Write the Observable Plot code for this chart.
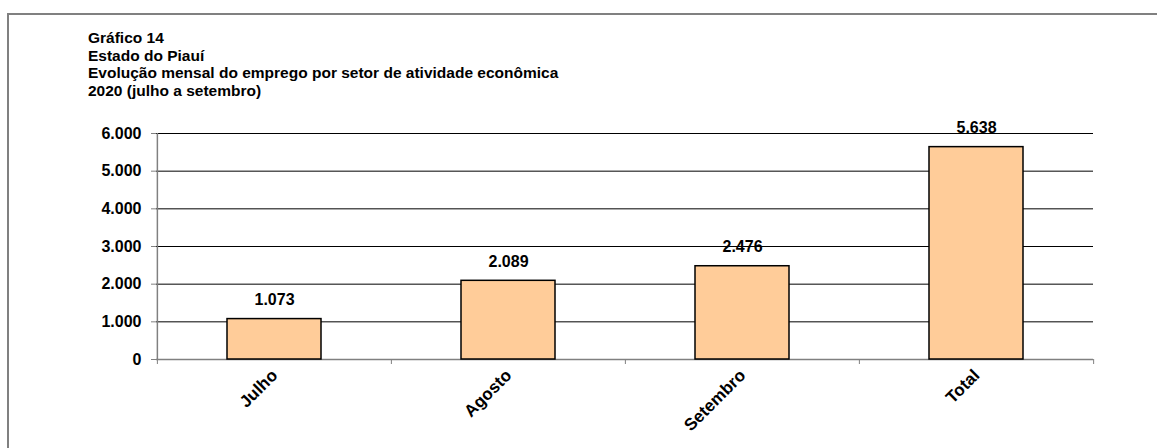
<!DOCTYPE html>
<html>
<head>
<meta charset="utf-8">
<script src="https://cdn.jsdelivr.net/npm/d3@7"></script>
<script src="https://cdn.jsdelivr.net/npm/@observablehq/plot@0.6"></script>
<style>
  html, body { margin: 0; padding: 0; background: #fff; overflow: hidden; }
  #wrap { position: relative; width: 1157px; height: 448px; overflow: hidden; font-family: "Liberation Sans", Arial, sans-serif; }
  #frame { position: absolute; left: 7px; top: 13px; width: 1300px; height: 600px; border-left: 2px solid #808080; border-top: 2px solid #808080; }
  #title { position: absolute; left: 88px; top: 29px; font-weight: bold; font-size: 15.5px; line-height: 17.5px; color: #000; white-space: nowrap; }
  #chart { position: absolute; left: 0; top: 0; }
</style>
</head>
<body>
<div id="wrap">
  <div id="frame"></div>
  <div id="title">
    <div>Gráfico 14</div>
    <div>Estado do Piauí</div>
    <div>Evolução mensal do emprego por setor de atividade econômica</div>
    <div>2020 (julho a setembro)</div>
  </div>
  <div id="chart"></div>
</div>
<script>
const categories = ["Julho", "Agosto", "Setembro", "Total"];
const values = [1073, 2089, 2476, 5638];
const yTicks = [0, 1000, 2000, 3000, 4000, 5000, 6000];

const data = categories.map((c, i) => ({ cat: c, value: values[i] }));
const ptBR = d3.formatLocale({ decimal: ",", thousands: ".", grouping: [3], currency: ["R$", ""] });
const fmt = ptBR.format(",d");

const W = 1157, H = 448;
const mL = 156, mR = 64, mT = 133, mB = 89;
const step = (W - mL - mR) / categories.length;
const gray = "#808080";
const font = "'Liberation Sans', Arial, sans-serif";

const chart = Plot.plot({
  width: W,
  height: H,
  marginLeft: mL,
  marginRight: mR,
  marginTop: mT,
  marginBottom: mB,
  style: { fontFamily: font, fontWeight: "bold", fontSize: "16px", color: "#000", background: "transparent", overflow: "visible" },
  x: { domain: categories, paddingInner: 0.6, paddingOuter: 0.3, label: null, axis: null },
  y: { domain: [0, 6000], label: null, axis: null },
  marks: [
    Plot.gridY(yTicks.filter(d => d > 0), { stroke: "#000", strokeOpacity: 1, strokeWidth: 1 }),
    Plot.axisY(yTicks, { text: null, tickSize: 5, stroke: gray }),
    Plot.text(yTicks, { y: d => d, text: d => fmt(d), frameAnchor: "left", textAnchor: "end", dx: -15, fontSize: 16, fontWeight: "bold", fill: "#000" }),
    Plot.ruleY([0], { stroke: gray, strokeWidth: 1.5 }),
    Plot.ruleX([categories[0]], { y1: 0, y2: 6000, dx: -step / 2, stroke: gray, strokeWidth: 1.5 }),
    Plot.axisX({ ticks: categories, tickSize: 5, text: null, dx: -step / 2, stroke: gray }),
    Plot.axisX({ ticks: [categories[categories.length - 1]], tickSize: 5, text: null, dx: step / 2, stroke: gray }),
    Plot.text(categories, { x: d => d, text: d => d, frameAnchor: "bottom", textAnchor: "end", rotate: -45, dx: 4, dy: 17, fontSize: 17, fontWeight: "bold", fill: "#000" }),
    Plot.barY(data, { x: "cat", y: "value", fill: "#FFCC99", stroke: "#000", strokeWidth: 1.5 }),
    Plot.text(data, { x: "cat", y: "value", text: d => fmt(d.value), dy: -19, fontSize: 16, fontWeight: "bold", fill: "#000" })
  ]
});
document.getElementById("chart").appendChild(chart);
</script>
</body>
</html>
